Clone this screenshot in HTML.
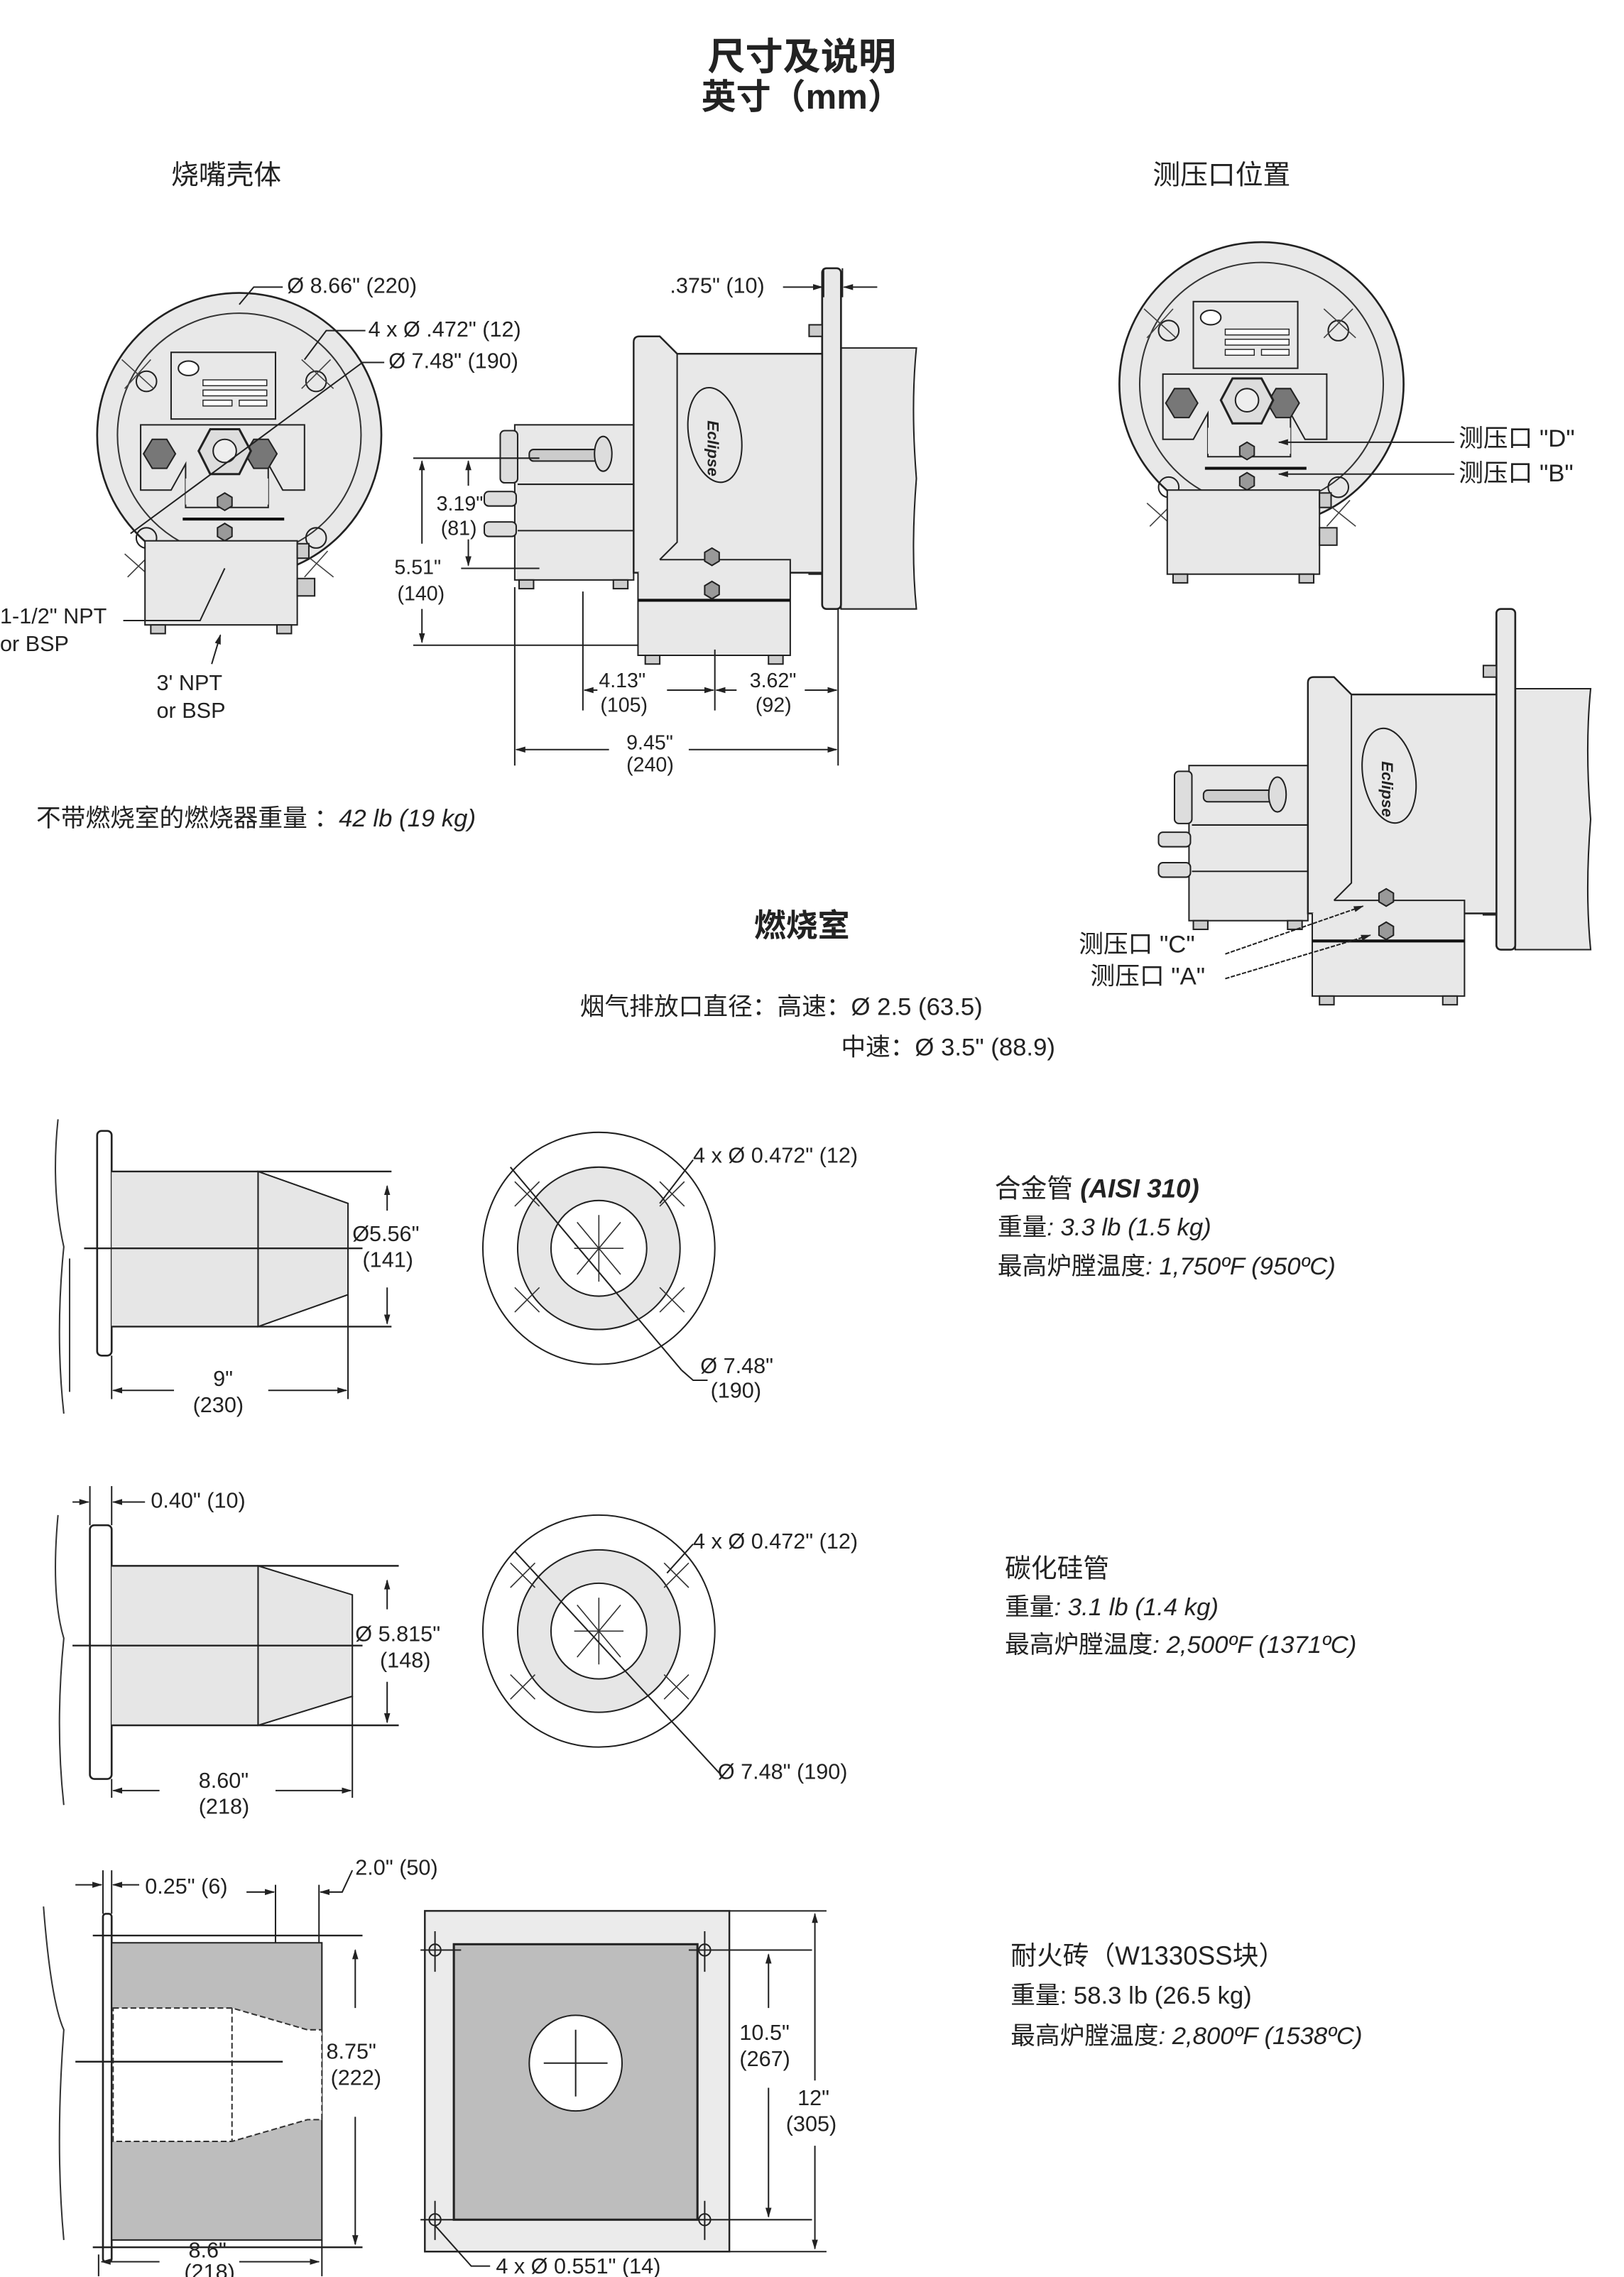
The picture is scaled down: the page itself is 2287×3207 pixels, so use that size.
<!DOCTYPE html>
<html><head><meta charset="utf-8"><style>
html,body{margin:0;padding:0;background:#fff;}
svg{display:block;}
text{font-family:"Liberation Sans","Noto Sans CJK SC",sans-serif;fill:#222;}
</style></head><body>
<svg width="2287" height="3207" viewBox="0 0 1120 1570.5" xmlns="http://www.w3.org/2000/svg">
<defs>
<marker id="ar" viewBox="0 0 10 10" refX="9" refY="5" markerWidth="7" markerHeight="7" orient="auto-start-reverse"><path d="M0,2 L10,5 L0,8 z" fill="#222"/></marker>
<g id="front">
  <circle cx="165" cy="300" r="98" fill="#e8e8e8" stroke="#222" stroke-width="1.3"/>
  <circle cx="165" cy="300" r="84" fill="none" stroke="#333" stroke-width="1"/>
  <rect x="118" y="243" width="72" height="46" fill="#e8e8e8" stroke="#222"/>
  <ellipse cx="130" cy="254" rx="7" ry="5" fill="#fff" stroke="#222"/>
  <rect x="140" y="262" width="44" height="4" fill="#fff" stroke="#222" stroke-width=".7"/>
  <rect x="140" y="269" width="44" height="4" fill="#fff" stroke="#222" stroke-width=".7"/>
  <rect x="140" y="276" width="20" height="4" fill="#fff" stroke="#222" stroke-width=".7"/>
  <rect x="165" y="276" width="19" height="4" fill="#fff" stroke="#222" stroke-width=".7"/>
  <path d="M97,293 H210 V338 H195 L185,320 V350 H128 V320 L118,338 H97 Z" fill="#e8e8e8" stroke="#222"/>
  <rect x="128" y="330" width="57" height="18" fill="#e8e8e8" stroke="none"/>
  <polygon points="105,303 115,303 121,313 115,323 105,323 99,313" fill="#777" stroke="#222"/>
  <polygon points="175,303 185,303 191,313 185,323 175,323 169,313" fill="#777" stroke="#222"/>
  <polygon points="145,296 165,296 173,311 165,327 145,327 137,311" fill="#ddd" stroke="#222" stroke-width="1.5"/>
  <circle cx="155" cy="311" r="8" fill="#eee" stroke="#222"/>
  <polygon points="150,343 155,340 160,343 160,349 155,352 150,349" fill="#999" stroke="#222"/>
  <line x1="126" y1="358" x2="196" y2="358" stroke="#111" stroke-width="2"/>
  <polygon points="150,364 155,361 160,364 160,370 155,373 150,370" fill="#999" stroke="#222"/>
  <circle cx="101" cy="263" r="7" fill="none" stroke="#222"/>
  <circle cx="218" cy="263" r="7" fill="none" stroke="#222"/>
  <circle cx="101" cy="371" r="7" fill="none" stroke="#222"/>
  <circle cx="218" cy="371" r="7" fill="none" stroke="#222"/>
  <path d="M84,248 L106,268 M86,268 L104,248 M228,248 L208,268 M208,248 L230,268 M86,382 L104,398 M88,398 L106,380 M210,382 L230,398 M226,380 L210,398" stroke="#444" stroke-width=".8"/>
  <rect x="100" y="373" width="105" height="58" fill="#e8e8e8" stroke="#222"/>
  <rect x="104" y="431" width="10" height="6" fill="#ccc" stroke="#222"/>
  <rect x="191" y="431" width="10" height="6" fill="#ccc" stroke="#222"/>
  <rect x="205" y="375" width="8" height="10" fill="#ccc" stroke="#222"/>
  <rect x="205" y="399" width="12" height="12" fill="#ccc" stroke="#222"/>
</g>
<g id="side">
  <path d="M580,240 H632 Q628,280 632,330 Q628,380 632,420 H580 Z" fill="#e8e8e8" stroke="#222"/>
  <rect x="567" y="185" width="13" height="235" rx="3" fill="#e8e8e8" stroke="#222" stroke-width="1.3"/>
  <rect x="558" y="224" width="9" height="8" fill="#ccc" stroke="#222"/>
  <rect x="558" y="388" width="9" height="8" fill="#ccc" stroke="#222"/>
  <rect x="355" y="293" width="82" height="107" fill="#e8e8e8" stroke="#222"/>
  <rect x="345" y="297" width="12" height="36" rx="3" fill="#ddd" stroke="#222"/>
  <line x1="357" y1="334" x2="437" y2="334" stroke="#222"/>
  <line x1="357" y1="366" x2="437" y2="366" stroke="#222"/>
  <rect x="334" y="339" width="22" height="10" rx="3" fill="#ddd" stroke="#222"/>
  <rect x="334" y="360" width="22" height="10" rx="3" fill="#ddd" stroke="#222"/>
  <rect x="365" y="310" width="55" height="8" rx="3" fill="#ccc" stroke="#222"/>
  <ellipse cx="416" cy="313" rx="6" ry="12" fill="#ddd" stroke="#222"/>
  <rect x="358" y="400" width="10" height="6" fill="#ccc" stroke="#222"/>
  <rect x="423" y="400" width="10" height="6" fill="#ccc" stroke="#222"/>
  <path d="M437,236 Q437,232 441,232 H455 L467,244 H567 V395 H437 Z" fill="#e8e8e8" stroke="#222" stroke-width="1.2"/>
  <path d="M467,244 V374 L455,386" fill="none" stroke="#222"/>
  <path d="M455,386 H545 V452 H440 V395" fill="#e8e8e8" stroke="#222"/>
  <line x1="440" y1="414" x2="545" y2="414" stroke="#111" stroke-width="2"/>
  <polygon points="486,381 491,378 496,381 496,387 491,390 486,387" fill="#999" stroke="#222"/>
  <polygon points="486,404 491,401 496,404 496,410 491,413 486,410" fill="#999" stroke="#222"/>
  <rect x="445" y="452" width="10" height="6" fill="#ccc" stroke="#222"/>
  <rect x="530" y="452" width="10" height="6" fill="#ccc" stroke="#222"/>
  <ellipse cx="493" cy="300" rx="18" ry="33" transform="rotate(-10 493 300)" fill="#e8e8e8" stroke="#222"/>
  <text x="0" y="0" transform="translate(488,290) rotate(90)" font-size="11" font-weight="bold" font-style="italic" font-family="Liberation Serif">Eclipse</text>
</g>
</defs>

<text x="553" y="48" text-anchor="middle" font-size="26" font-weight="bold" font-family="Liberation Serif,'Noto Serif CJK SC',serif">尺寸及说明</text>
<text x="553" y="75" text-anchor="middle" font-size="24" font-weight="bold" font-family="Liberation Serif,'Noto Serif CJK SC',serif">英寸（mm）</text>
<text x="118" y="127" font-size="19">烧嘴壳体</text>
<text x="795" y="127" font-size="19">测压口位置</text>

<use href="#front"/>
<use href="#side"/>
<use href="#front" transform="translate(705,-35)"/>
<use href="#side" transform="translate(465,235)"/>

<path d="M165,210 L175,198 H195" fill="none" stroke="#222"/>
<text x="198" y="202" font-size="15">Ø 8.66" (220)</text>
<path d="M210,248 L225,228 H252" fill="none" stroke="#222"/>
<text x="254" y="232" font-size="15">4 x Ø .472" (12)</text>
<path d="M90,368 L250,250 H265" fill="none" stroke="#222"/>
<text x="268" y="254" font-size="15">Ø 7.48" (190)</text>
<path d="M155,392 L138,428 H85" fill="none" stroke="#222"/>
<text x="0" y="430" font-size="15">1-1/2" NPT</text>
<text x="0" y="449" font-size="15">or BSP</text>
<path d="M152,438 L146,458" fill="none" stroke="#222" marker-start="url(#ar)"/>
<text x="108" y="476" font-size="15">3' NPT</text>
<text x="108" y="495" font-size="15">or BSP</text>

<line x1="568" y1="185" x2="568" y2="205" stroke="#222"/>
<line x1="581" y1="185" x2="581" y2="205" stroke="#222"/>
<line x1="540" y1="198" x2="567" y2="198" stroke="#222" marker-end="url(#ar)"/>
<line x1="605" y1="198" x2="582" y2="198" stroke="#222" marker-end="url(#ar)"/>
<text x="462" y="202" font-size="15">.375" (10)</text>
<line x1="285" y1="316" x2="372" y2="316" stroke="#222"/>
<line x1="318" y1="392" x2="372" y2="392" stroke="#222"/>
<line x1="285" y1="445" x2="440" y2="445" stroke="#222"/>
<line x1="323" y1="318" x2="323" y2="335" stroke="#222" marker-start="url(#ar)"/>
<line x1="323" y1="372" x2="323" y2="390" stroke="#222" marker-end="url(#ar)"/>
<text x="301" y="352" font-size="14">3.19"</text>
<text x="304" y="369" font-size="14">(81)</text>
<line x1="291" y1="318" x2="291" y2="375" stroke="#222" marker-start="url(#ar)"/>
<line x1="291" y1="420" x2="291" y2="443" stroke="#222" marker-end="url(#ar)"/>
<text x="272" y="396" font-size="14">5.51"</text>
<text x="274" y="414" font-size="14">(140)</text>
<line x1="355" y1="405" x2="355" y2="528" stroke="#222"/>
<line x1="402" y1="408" x2="402" y2="490" stroke="#222"/>
<line x1="493" y1="448" x2="493" y2="490" stroke="#222"/>
<line x1="578" y1="420" x2="578" y2="528" stroke="#222"/>
<line x1="412" y1="476" x2="403" y2="476" stroke="#222" marker-end="url(#ar)"/>
<line x1="460" y1="476" x2="492" y2="476" stroke="#222" marker-end="url(#ar)"/>
<text x="413" y="474" font-size="14">4.13"</text>
<text x="414" y="491" font-size="14">(105)</text>
<line x1="508" y1="476" x2="494" y2="476" stroke="#222" marker-end="url(#ar)"/>
<line x1="555" y1="476" x2="577" y2="476" stroke="#222" marker-end="url(#ar)"/>
<text x="517" y="474" font-size="14">3.62"</text>
<text x="521" y="491" font-size="14">(92)</text>
<line x1="420" y1="517" x2="356" y2="517" stroke="#222" marker-end="url(#ar)"/>
<line x1="475" y1="517" x2="577" y2="517" stroke="#222" marker-end="url(#ar)"/>
<text x="432" y="517" font-size="14">9.45"</text>
<text x="432" y="532" font-size="14">(240)</text>
<text x="25" y="570" font-size="17">不带燃烧室的燃烧器重量 ：<tspan font-style="italic">42 lb (19 kg)</tspan></text>

<line x1="1003" y1="305" x2="882" y2="305" stroke="#222" marker-end="url(#ar)"/>
<line x1="1003" y1="327" x2="882" y2="327" stroke="#222" marker-end="url(#ar)"/>
<text x="1006" y="308" font-size="17">测压口 "D"</text>
<text x="1006" y="332" font-size="17">测压口 "B"</text>
<line x1="845" y1="658" x2="940" y2="625" stroke="#222" stroke-dasharray="3,1" marker-end="url(#ar)"/>
<line x1="845" y1="675" x2="945" y2="645" stroke="#222" stroke-dasharray="3,1" marker-end="url(#ar)"/>
<text x="744" y="657" font-size="17">测压口 "C"</text>
<text x="752" y="679" font-size="17">测压口 "A"</text>

<text x="553" y="646" text-anchor="middle" font-size="22" font-weight="bold">燃烧室</text>
<text x="400" y="700" font-size="17">烟气排放口直径：高速：Ø 2.5 (63.5)</text>
<text x="580" y="728" font-size="17">中速：Ø 3.5" (88.9)</text>

<!-- Row 1 -->
<path d="M40,772 Q35,820 44,860 Q38,920 44,975" fill="none" stroke="#333"/>
<rect x="67" y="780" width="10" height="155" rx="3" fill="#fff" stroke="#222" stroke-width="1.3"/>
<rect x="77" y="808" width="101" height="107" fill="#e6e6e6" stroke="none"/>
<polygon points="178,808 240,830 240,893 178,915" fill="#e6e6e6" stroke="#222"/>
<line x1="77" y1="808" x2="270" y2="808" stroke="#222" stroke-width="1.2"/>
<line x1="77" y1="915" x2="270" y2="915" stroke="#222" stroke-width="1.2"/>
<line x1="178" y1="808" x2="178" y2="915" stroke="#222"/>
<line x1="58" y1="861" x2="250" y2="861" stroke="#222" stroke-width="1.2"/>
<line x1="48" y1="868" x2="48" y2="960" stroke="#333"/>
<line x1="267" y1="818" x2="267" y2="835" stroke="#222" marker-start="url(#ar)"/>
<line x1="267" y1="888" x2="267" y2="913" stroke="#222" marker-end="url(#ar)"/>
<text x="243" y="856" font-size="15">Ø5.56"</text>
<text x="250" y="874" font-size="15">(141)</text>
<line x1="77" y1="935" x2="77" y2="965" stroke="#222"/>
<line x1="240" y1="893" x2="240" y2="965" stroke="#222"/>
<line x1="120" y1="959" x2="78" y2="959" stroke="#222" marker-end="url(#ar)"/>
<line x1="185" y1="959" x2="239" y2="959" stroke="#222" marker-end="url(#ar)"/>
<text x="147" y="956" font-size="15">9"</text>
<text x="133" y="974" font-size="15">(230)</text>
<circle cx="413" cy="861" r="80" fill="#fff" stroke="#222"/>
<circle cx="413" cy="861" r="56" fill="#e6e6e6" stroke="#222"/>
<circle cx="413" cy="861" r="33" fill="#fff" stroke="#222"/>
<path d="M398,843 L428,879 M413,838 V884 M396,861 H430 M428,843 L398,879" stroke="#333" stroke-width=".8"/>
<path d="M352,805 L470,945" stroke="#222"/>
<path d="M355,815 L372,832 M372,815 L355,832 M455,815 L472,832 M472,815 L455,832 M355,888 L372,905 M372,888 L355,905 M455,888 L472,905 M472,888 L455,905" stroke="#333" stroke-width=".8"/>
<path d="M455,830 L478,800" stroke="#222"/>
<text x="478" y="802" font-size="15">4 x Ø 0.472" (12)</text>
<path d="M470,945 L478,952 H488" stroke="#222" fill="none"/>
<text x="483" y="947" font-size="15">Ø 7.48"</text>
<text x="490" y="964" font-size="15">(190)</text>
<text x="686" y="826" font-size="18">合金管 <tspan font-weight="bold" font-style="italic">(AISI 310)</tspan></text>
<text x="688" y="852" font-size="17">重量<tspan font-style="italic">: 3.3 lb (1.5 kg)</tspan></text>
<text x="688" y="879" font-size="17">最高炉膛温度<tspan font-style="italic">: 1,750ºF (950ºC)</tspan></text>

<!-- Row 2 -->
<path d="M40,1045 Q35,1100 44,1130 Q38,1190 44,1245" fill="none" stroke="#333"/>
<rect x="62" y="1052" width="15" height="175" rx="3" fill="#fff" stroke="#222" stroke-width="1.3"/>
<rect x="77" y="1080" width="101" height="110" fill="#e6e6e6"/>
<polygon points="178,1080 243,1100 243,1170 178,1190" fill="#e6e6e6" stroke="#222"/>
<line x1="77" y1="1080" x2="275" y2="1080" stroke="#222" stroke-width="1.2"/>
<line x1="77" y1="1190" x2="275" y2="1190" stroke="#222" stroke-width="1.2"/>
<line x1="178" y1="1080" x2="178" y2="1190" stroke="#222"/>
<line x1="50" y1="1135" x2="250" y2="1135" stroke="#222" stroke-width="1.2"/>
<line x1="62" y1="1025" x2="62" y2="1052" stroke="#222"/>
<line x1="77" y1="1025" x2="77" y2="1052" stroke="#222"/>
<line x1="50" y1="1036" x2="61" y2="1036" stroke="#222" marker-end="url(#ar)"/>
<line x1="100" y1="1036" x2="78" y2="1036" stroke="#222" marker-end="url(#ar)"/>
<text x="104" y="1040" font-size="15">0.40" (10)</text>
<line x1="267" y1="1090" x2="267" y2="1110" stroke="#222" marker-start="url(#ar)"/>
<line x1="267" y1="1160" x2="267" y2="1188" stroke="#222" marker-end="url(#ar)"/>
<text x="245" y="1132" font-size="15">Ø 5.815"</text>
<text x="262" y="1150" font-size="15">(148)</text>
<line x1="77" y1="1227" x2="77" y2="1240" stroke="#222"/>
<line x1="243" y1="1170" x2="243" y2="1240" stroke="#222"/>
<line x1="110" y1="1235" x2="78" y2="1235" stroke="#222" marker-end="url(#ar)"/>
<line x1="190" y1="1235" x2="242" y2="1235" stroke="#222" marker-end="url(#ar)"/>
<text x="137" y="1233" font-size="15">8.60"</text>
<text x="137" y="1251" font-size="15">(218)</text>
<circle cx="413" cy="1125" r="80" fill="#fff" stroke="#222"/>
<circle cx="413" cy="1125" r="56" fill="#e6e6e6" stroke="#222"/>
<circle cx="413" cy="1125" r="33" fill="#fff" stroke="#222"/>
<path d="M398,1107 L428,1143 M413,1102 V1148 M396,1125 H430 M428,1107 L398,1143" stroke="#333" stroke-width=".8"/>
<path d="M355,1070 L498,1225" stroke="#222"/>
<path d="M352,1078 L369,1095 M369,1078 L352,1095 M458,1078 L475,1095 M475,1078 L458,1095 M352,1155 L369,1172 M369,1155 L352,1172 M458,1155 L475,1172 M475,1155 L458,1172" stroke="#333" stroke-width=".8"/>
<path d="M460,1085 L478,1065" stroke="#222"/>
<text x="478" y="1068" font-size="15">4 x Ø 0.472" (12)</text>
<text x="495" y="1227" font-size="15"> Ø 7.48" (190)</text>
<text x="693" y="1088" font-size="18">碳化硅管</text>
<text x="693" y="1114" font-size="17">重量<tspan font-style="italic">: 3.1 lb (1.4 kg)</tspan></text>
<text x="693" y="1140" font-size="17">最高炉膛温度<tspan font-style="italic">: 2,500ºF (1371ºC)</tspan></text>

<!-- Row 3 -->
<path d="M30,1315 Q35,1380 44,1400 Q38,1480 44,1545" fill="none" stroke="#333"/>
<rect x="71" y="1320" width="6" height="240" rx="2" fill="#fff" stroke="#222" stroke-width="1.3"/>
<rect x="77" y="1340" width="145" height="205" fill="#bdbdbd" stroke="#222"/>
<polygon points="78,1385 160,1385 212,1400 222,1400 222,1462 212,1462 160,1477 78,1477" fill="#fff" stroke="#333" stroke-dasharray="4,2"/>
<line x1="160" y1="1385" x2="160" y2="1477" stroke="#333" stroke-dasharray="4,2"/>
<line x1="64" y1="1335" x2="250" y2="1335" stroke="#222" stroke-width="1.2"/>
<line x1="64" y1="1550" x2="250" y2="1550" stroke="#222" stroke-width="1.2"/>
<line x1="52" y1="1422" x2="195" y2="1422" stroke="#222" stroke-width="1.2"/>
<line x1="71" y1="1290" x2="71" y2="1320" stroke="#222"/>
<line x1="77" y1="1290" x2="77" y2="1320" stroke="#222"/>
<line x1="52" y1="1300" x2="70" y2="1300" stroke="#222" marker-end="url(#ar)"/>
<line x1="96" y1="1300" x2="78" y2="1300" stroke="#222" marker-end="url(#ar)"/>
<text x="100" y="1306" font-size="15">0.25" (6)</text>
<line x1="190" y1="1300" x2="190" y2="1340" stroke="#222"/>
<line x1="220" y1="1300" x2="220" y2="1340" stroke="#222"/>
<line x1="170" y1="1305" x2="189" y2="1305" stroke="#222" marker-end="url(#ar)"/>
<path d="M243,1290 L236,1305 H221" fill="none" stroke="#222" marker-end="url(#ar)"/>
<text x="245" y="1293" font-size="15">2.0" (50)</text>
<line x1="245" y1="1345" x2="245" y2="1385" stroke="#222" marker-start="url(#ar)"/>
<line x1="245" y1="1460" x2="245" y2="1548" stroke="#222" marker-end="url(#ar)"/>
<text x="225" y="1420" font-size="15">8.75"</text>
<text x="228" y="1438" font-size="15">(222)</text>
<line x1="68" y1="1555" x2="68" y2="1570" stroke="#222"/>
<line x1="222" y1="1545" x2="222" y2="1570" stroke="#222"/>
<line x1="110" y1="1560" x2="70" y2="1560" stroke="#222" marker-end="url(#ar)"/>
<line x1="165" y1="1560" x2="220" y2="1560" stroke="#222" marker-end="url(#ar)"/>
<text x="130" y="1557" font-size="15">8.6"</text>
<text x="127" y="1572" font-size="15">(218)</text>

<rect x="293" y="1318" width="210" height="235" fill="#ebebeb" stroke="#222" stroke-width="1.2"/>
<rect x="313" y="1341" width="168" height="190" fill="#bdbdbd" stroke="#222" stroke-width="1.5"/>
<ellipse cx="397" cy="1423" rx="32" ry="33" fill="#fff" stroke="#222"/>
<path d="M375,1423 H419 M397,1400 V1446" stroke="#222"/>
<path d="M290,1345 H318 M300,1332 V1360 M475,1345 H560 M486,1332 V1360 M290,1531 H318 M300,1518 V1545 M475,1531 H560 M486,1518 V1545" stroke="#222"/>
<circle cx="300" cy="1345" r="4" fill="none" stroke="#222"/>
<circle cx="486" cy="1345" r="4" fill="none" stroke="#222"/>
<circle cx="300" cy="1531" r="4" fill="none" stroke="#222"/>
<circle cx="486" cy="1531" r="4" fill="none" stroke="#222"/>
<line x1="503" y1="1318" x2="570" y2="1318" stroke="#222"/>
<line x1="503" y1="1553" x2="570" y2="1553" stroke="#222"/>
<line x1="530" y1="1348" x2="530" y2="1385" stroke="#222" marker-start="url(#ar)"/>
<line x1="530" y1="1440" x2="530" y2="1529" stroke="#222" marker-end="url(#ar)"/>
<text x="510" y="1407" font-size="15">10.5"</text>
<text x="510" y="1425" font-size="15">(267)</text>
<line x1="562" y1="1320" x2="562" y2="1435" stroke="#222" marker-start="url(#ar)"/>
<line x1="562" y1="1480" x2="562" y2="1551" stroke="#222" marker-end="url(#ar)"/>
<text x="550" y="1452" font-size="15">12"</text>
<text x="542" y="1470" font-size="15">(305)</text>
<path d="M300,1535 L325,1563 H338" fill="none" stroke="#222"/>
<text x="342" y="1568" font-size="15">4 x  Ø 0.551" (14)</text>
<text x="697" y="1355" font-size="18">耐火砖（W1330SS块）</text>
<text x="697" y="1382" font-size="17">重量: 58.3 lb (26.5 kg)</text>
<text x="697" y="1410" font-size="17">最高炉膛温度<tspan font-style="italic">: 2,800ºF (1538ºC)</tspan></text>
</svg>
</body></html>
